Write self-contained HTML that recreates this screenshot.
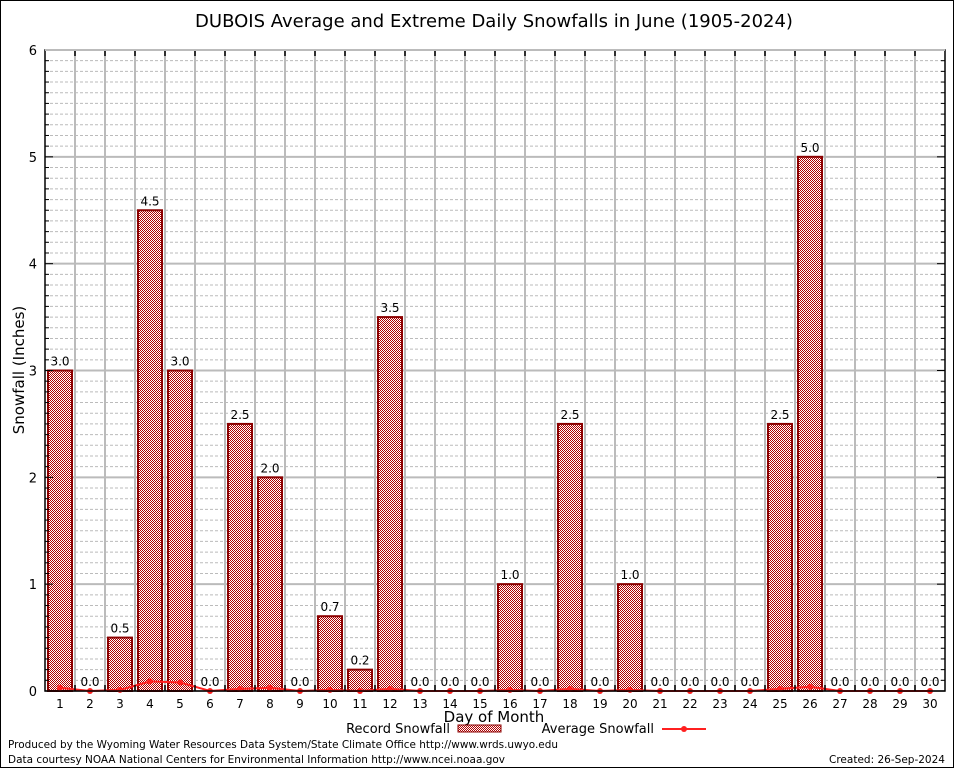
<!DOCTYPE html>
<html><head><meta charset="utf-8"><style>
body{margin:0;background:#fff}
svg text{font-family:"DejaVu Sans","Liberation Sans",sans-serif}
</style></head><body>
<svg id="c" width="954" height="768" xmlns="http://www.w3.org/2000/svg">
<defs>
<pattern id="chk" width="2" height="2" patternUnits="userSpaceOnUse">
<rect width="2" height="2" fill="#fff"/><rect width="1" height="1" fill="#b00000"/><rect x="1" y="1" width="1" height="1" fill="#b00000"/>
</pattern>
</defs>
<rect x="0.5" y="0.5" width="953" height="767" fill="#fff" stroke="#000"/>
<text x="494" y="27" font-size="18" text-anchor="middle">DUBOIS Average and Extreme Daily Snowfalls in June (1905-2024)</text>
<g id="grid"></g>
<g id="bars"></g>
<g id="avg"></g>
<g id="axes"></g>
<text x="24" y="370" font-size="15" text-anchor="middle" transform="rotate(-90 24 370)">Snowfall (Inches)</text>
<text x="494" y="722" font-size="15" text-anchor="middle">Day of Month</text>
<g>
<text x="450" y="733" font-size="13" text-anchor="end">Record Snowfall</text>
<rect x="458" y="725" width="43" height="7" fill="url(#chk)" stroke="#8b0000"/>
<text x="654" y="733" font-size="13" text-anchor="end">Average Snowfall</text>
<line x1="662" y1="729" x2="706" y2="729" stroke="#ff2020" stroke-width="2"/>
<circle cx="684" cy="729" r="3" fill="#ff2020"/>
</g>
<text x="8" y="748" font-size="11" textLength="550" lengthAdjust="spacingAndGlyphs">Produced by the Wyoming Water Resources Data System/State Climate Office http://www.wrds.uwyo.edu</text>
<text x="8" y="763" font-size="11" textLength="497" lengthAdjust="spacingAndGlyphs">Data courtesy NOAA National Centers for Environmental Information http://www.ncei.noaa.gov</text>
<text x="945" y="763" font-size="11" text-anchor="end" textLength="116" lengthAdjust="spacingAndGlyphs">Created: 26-Sep-2024</text>
</svg>
<script>
const days=[1,2,3,4,5,6,7,8,9,10,11,12,13,14,15,16,17,18,19,20,21,22,23,24,25,26,27,28,29,30];
const records=[3.0,0.0,0.5,4.5,3.0,0.0,2.5,2.0,0.0,0.7,0.2,3.5,0.0,0.0,0.0,1.0,0.0,2.5,0.0,1.0,0.0,0.0,0.0,0.0,2.5,5.0,0.0,0.0,0.0,0.0];
const averages=[0.03,0.0,0.01,0.09,0.08,0.0,0.02,0.03,0.0,0.01,0.0,0.02,0.0,0.0,0.0,0.01,0.0,0.02,0.0,0.01,0.0,0.0,0.0,0.0,0.02,0.04,0.0,0.0,0.0,0.0];
const yTicks=[0,1,2,3,4,5,6];
const NS="http://www.w3.org/2000/svg";
const L=45,R=945,T=50,B=691,yMax=6;
const x=d=>L+(d-0.5)*(R-L)/days.length;
const y=v=>B-v*(B-T)/yMax;
function mk(p,tag,a){const e=document.createElementNS(NS,tag);for(const k in a)e.setAttribute(k,a[k]);document.getElementById(p).appendChild(e);return e;}
for(let i=0;i<yMax*10;i++){const v=i/10;if(i%10===0)continue;
 const g=mk('grid','line',{x1:L,x2:R,y1:y(v),y2:y(v),stroke:'#bbb','stroke-dasharray':'3,2'});
 
 
 const t1=mk('axes','line',{x1:L,x2:L+4,y1:y(v),y2:y(v),stroke:'#000'});
 
 
 const t2=mk('axes','line',{x1:R-4,x2:R,y1:y(v),y2:y(v),stroke:'#000'});
 
 }
yTicks.forEach(v=>{
 const g=mk('grid','line',{x1:L,x2:R,y1:y(v),y2:y(v),stroke:'#bbb','stroke-width':2});
 
 
 const t=mk('axes','text',{x:L-8,y:y(v)+5,'font-size':13,'text-anchor':'end','font-family':'Liberation Serif,serif'});t.textContent=v;
 
 
 const k=mk('axes','line',{x1:L,x2:L+8,y1:y(v),y2:y(v),stroke:'#000'});
 
 
 const k2=mk('axes','line',{x1:R-8,x2:R,y1:y(v),y2:y(v),stroke:'#000'});
 
 
});
for(let i=1;i<days.length;i++){const xx=L+i*(R-L)/days.length;
 const g=mk('grid','line',{x1:xx,x2:xx,y1:T,y2:B,stroke:'#bbb','stroke-width':2});
 
 
 const k=mk('axes','line',{x1:xx,x2:xx,y1:T,y2:T+6,stroke:'#000','stroke-width':1.5});
 
 
 const k2=mk('axes','line',{x1:xx,x2:xx,y1:B-6,y2:B,stroke:'#000','stroke-width':1.5});
 
 }
days.forEach((d,i)=>{const v=records[i];
 if(v>0){const b=mk('bars','rect',{x:x(d)-12,y:y(v),width:24,height:B-y(v),fill:'url(#chk)',stroke:'#8b0000','stroke-width':2});
 
 }
 const t=mk('bars','text',{x:x(d),y:y(v)-5,'font-size':12,'text-anchor':'middle'});t.textContent=v.toFixed(1);
 
 
 const xl=mk('axes','text',{x:x(d),y:B+17,'font-size':12,'text-anchor':'middle','font-family':'Liberation Serif,serif'});xl.textContent=d;
 
 
});
const pts=days.map((d,i)=>x(d)+','+y(averages[i])).join(' ');
const pl=mk('avg','polyline',{points:pts,fill:'none',stroke:'#ff2020','stroke-width':2});


days.forEach((d,i)=>{const c=mk('avg','circle',{cx:x(d),cy:y(averages[i]),r:3,fill:'#ff2020'});
 
 });
const f=mk('axes','rect',{x:L,y:T,width:R-L,height:B-T,fill:'none',stroke:'#000','stroke-width':1.5});


const tp=mk('axes','line',{x1:L,x2:R,y1:T,y2:T,stroke:'#bbb','stroke-width':2});


</script>
</body></html>
